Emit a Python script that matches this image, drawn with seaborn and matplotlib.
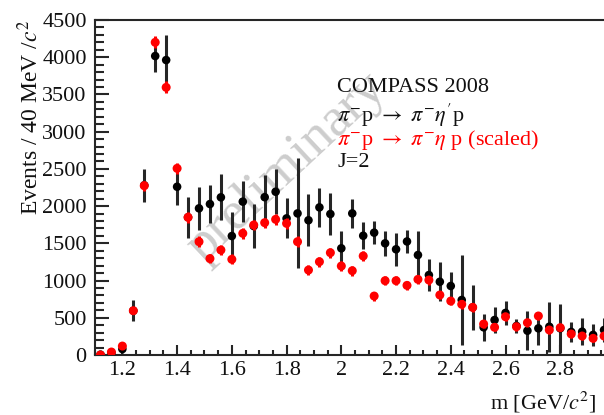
import numpy as np
import pandas as pd
import matplotlib
matplotlib.use("Agg")
import matplotlib.pyplot as plt
import seaborn as sns
from matplotlib.ticker import MultipleLocator

sns.set_theme(style="ticks")
plt.rcParams["font.family"] = ["Liberation Serif", "DejaVu Serif"]
plt.rcParams["mathtext.fontset"] = "stix"

# ── datos ───────────────────────────────────────────────────────────────────
mass = [1.12, 1.16, 1.20, 1.24, 1.28, 1.32, 1.36, 1.40, 1.44, 1.48,
        1.52, 1.56, 1.60, 1.64, 1.68, 1.72, 1.76, 1.80, 1.84, 1.88,
        1.92, 1.96, 2.00, 2.04, 2.08, 2.12, 2.16, 2.20, 2.24, 2.28,
        2.32, 2.36, 2.40, 2.44, 2.48, 2.52, 2.56, 2.60, 2.64, 2.68,
        2.72, 2.76, 2.80, 2.84, 2.88, 2.92, 2.96]

etap_events = [5, 30, 80, 595, 2280, 4016, 3962, 2260, 1850, 1970,
               2028, 2118, 1598, 2060, 1732, 2120, 2193, 1835, 1902, 1810,
               1983, 1894, 1433, 1902, 1602, 1643, 1500, 1420, 1525, 1343,
               1074, 984, 927, 739, 640, 372, 470, 565, 390, 326,
               358, 380, 358, 310, 313, 270, 336]
etap_err = [10, 20, 50, 140, 220, 220, 335, 240, 275, 290,
            250, 310, 320, 280, 300, 300, 300, 270, 740, 350,
            260, 280, 235, 195, 180, 155, 170, 220, 155, 325,
            215, 260, 190, 610, 300, 180, 170, 165, 100, 260,
            220, 335, 330, 140, 180, 145, 155]

eta_events = [0, 40, 120, 595, 2274, 4200, 3595, 2507, 1849, 1522,
              1295, 1410, 1285, 1634, 1746, 1777, 1822, 1768, 1522, 1141,
              1253, 1374, 1195, 1132, 1330, 792, 998, 998, 935, 1016,
              1007, 806, 725, 681, 640, 416, 372, 514, 380, 434,
              524, 336, 367, 282, 255, 224, 255]
eta_err = [10, 20, 30, 50, 70, 80, 80, 75, 70, 70,
           65, 65, 65, 70, 70, 70, 70, 70, 70, 65,
           65, 65, 65, 65, 65, 60, 60, 60, 60, 60,
           60, 60, 60, 60, 60, 55, 55, 55, 55, 55,
           55, 50, 50, 50, 50, 50, 50]

x_ticks = [1.2, 1.4, 1.6, 1.8, 2.0, 2.2, 2.4, 2.6, 2.8]
x_tick_labels = ["1.2", "1.4", "1.6", "1.8", "2", "2.2", "2.4", "2.6", "2.8"]

df = pd.concat([
    pd.DataFrame({"m": mass, "n": etap_events, "err": etap_err, "canal": "etap"}),
    pd.DataFrame({"m": mass, "n": eta_events, "err": eta_err, "canal": "eta"}),
], ignore_index=True)

# ── figura ──────────────────────────────────────────────────────────────────
fig = plt.figure(figsize=(6.04, 4.15), dpi=100)
ax = fig.add_axes([95 / 604, 60 / 415, 520 / 604, 335 / 415])

dark = "#262626"
black = df[df["canal"] == "etap"]
red = df[df["canal"] == "eta"]

ax.errorbar(black["m"], black["n"], yerr=black["err"], fmt="none",
            ecolor=dark, elinewidth=2.2, capsize=0, zorder=3)
sns.scatterplot(data=black, x="m", y="n", color="black", s=38,
                edgecolor="none", ax=ax, zorder=4, legend=False)
ax.errorbar(red["m"], red["n"], yerr=red["err"], fmt="none",
            ecolor="red", elinewidth=2.2, capsize=0, zorder=5)
sns.scatterplot(data=red, x="m", y="n", color="red", s=42,
                edgecolor="none", ax=ax, zorder=6, legend=False)

ax.set_xlim(1.1, 3.0)
ax.set_ylim(0, 4500)
ax.set_xlabel("")
ax.set_ylabel("")

ax.set_xticks(x_ticks)
ax.set_xticklabels(x_tick_labels)
ax.xaxis.set_minor_locator(MultipleLocator(0.05))
ax.yaxis.set_major_locator(MultipleLocator(500))
ax.yaxis.set_minor_locator(MultipleLocator(100))

ax.tick_params(axis="both", which="both", direction="in", color=dark,
               width=1.5, labelsize=16, labelcolor="#111111")
ax.tick_params(axis="y", which="major", length=10, pad=6)
ax.tick_params(axis="y", which="minor", length=6.5)
ax.tick_params(axis="x", which="major", length=7, pad=4)
ax.tick_params(axis="x", which="minor", length=3.6)

for side in ["left", "bottom", "top"]:
    ax.spines[side].set_linewidth(1.5)
    ax.spines[side].set_color(dark)
ax.spines["right"].set_visible(False)

# marca de agua
ax.text(1.80, 2520, "preliminary", rotation=43, fontsize=39, color="#cdcdcd",
        ha="center", va="center", zorder=1)

# textos
tx = 1.985
ax.text(tx, 3590, "COMPASS 2008", fontsize=16, color="#111111", va="center", zorder=7)
ax.text(tx, 3225, r"$\pi^{-}$p $\rightarrow$ $\pi^{-}\eta'$p", fontsize=16,
        color="#111111", va="center", zorder=7)
ax.text(tx, 2890, r"$\pi^{-}$p $\rightarrow$ $\pi^{-}\eta$ p (scaled)", fontsize=16,
        color="red", va="center", zorder=7)
ax.text(tx, 2590, "J=2", fontsize=16, color="#111111", va="center", zorder=7)

fig.text(30 / 604, 1 - 20 / 415, r"Events / 40 MeV /$c^{2}$", rotation=90,
         fontsize=17, ha="center", va="top", color="#111111")
fig.text(490 / 604, 1 - 402 / 415, r"m [GeV/$c^{2}$]", fontsize=16,
         ha="left", va="center", color="#111111")

plt.savefig("out.png", dpi=100)
plt.close()
